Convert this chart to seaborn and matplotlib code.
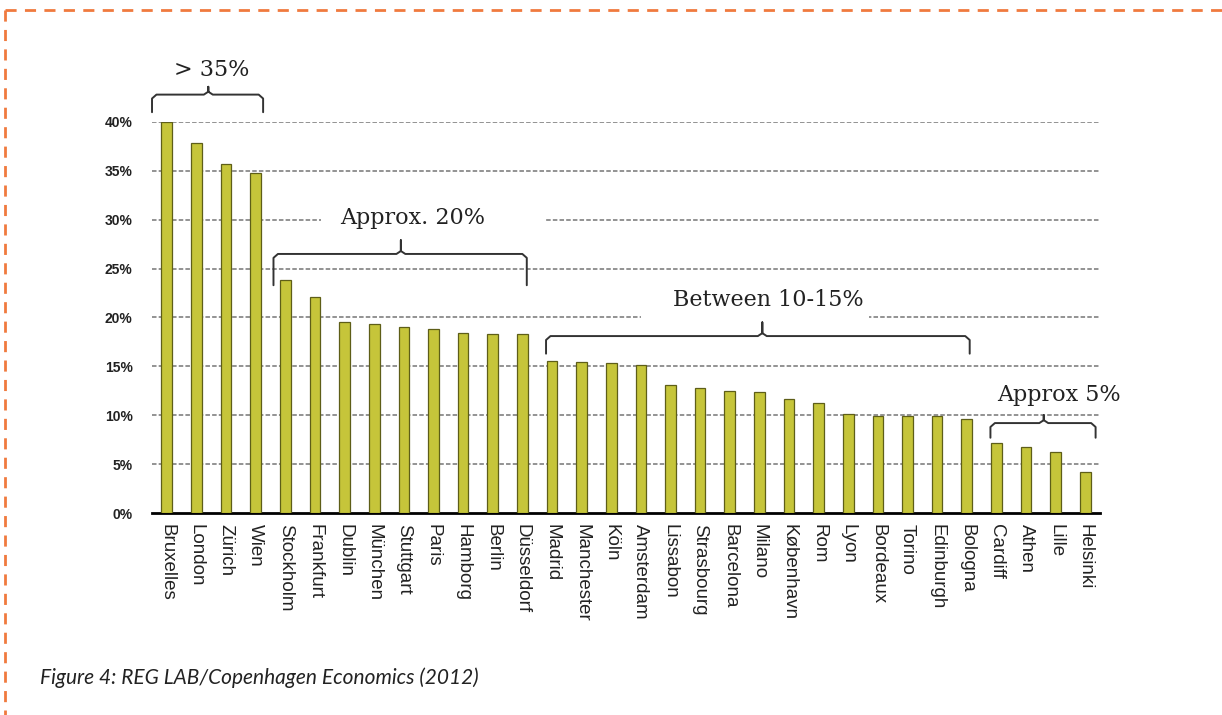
import numpy as np
import pandas as pd
import matplotlib
matplotlib.use("Agg")
import matplotlib.pyplot as plt
from matplotlib.lines import Line2D
from matplotlib.patches import Rectangle
import seaborn as sns

# ─────────────────────────────────────────────
# DATA
# ─────────────────────────────────────────────
cities = ["Bruxelles", "London", "Zürich", "Wien", "Stockholm", "Frankfurt",
          "Dublin", "München", "Stuttgart", "Paris", "Hamborg", "Berlin",
          "Düsseldorf", "Madrid", "Manchester", "Köln", "Amsterdam", "Lissabon",
          "Strasbourg", "Barcelona", "Milano", "København", "Rom", "Lyon",
          "Bordeaux", "Torino", "Edinburgh", "Bologna", "Cardiff", "Athen",
          "Lille", "Helsinki"]
shares = [40.0, 37.9, 35.7, 34.8, 23.8, 22.1, 19.5, 19.3, 19.0, 18.8, 18.4,
          18.3, 18.3, 15.6, 15.4, 15.3, 15.1, 13.1, 12.8, 12.5, 12.4, 11.7,
          11.3, 10.1, 9.9, 9.9, 9.9, 9.6, 7.2, 6.8, 6.2, 4.2]
y_ticks = [0, 5, 10, 15, 20, 25, 30, 35, 40]

group_labels = ["> 35%", "Approx. 20%", "Between 10-15%", "Approx 5%"]

df = pd.DataFrame({"city": cities, "share": shares})

# ─────────────────────────────────────────────
# FIGURE
# ─────────────────────────────────────────────
sns.set_style("white")
plt.rcParams["font.family"] = ["Liberation Sans", "DejaVu Sans"]

fig = plt.figure(figsize=(12.22, 7.15), dpi=100)
ax = fig.add_axes([0.1244, 0.2825, 0.7758, 0.5469])

sns.barplot(data=df, x="city", y="share", color="#c6c53a", saturation=1,
            width=0.36, edgecolor="#5e5e18", linewidth=0.9, ax=ax, zorder=3)

ax.set_xlim(-0.5, len(cities) - 0.5)
ax.set_ylim(0, 40)
ax.set_yticks(y_ticks)
ax.set_yticklabels([f"{t}%" for t in y_ticks], fontsize=10, fontweight="bold",
                   color="#222222")
ax.tick_params(axis="y", length=0, pad=14)

ax.set_xticks(range(len(cities)))
ax.set_xticklabels(cities, rotation=270, fontsize=13.5, color="#222222")
ax.tick_params(axis="x", which="major", length=0, pad=8)
ax.set_xticks(np.arange(-0.5, len(cities)), minor=True)
ax.tick_params(axis="x", which="minor", length=5, width=1.5, color="black",
               direction="out")
ax.set_xlabel("")
ax.set_ylabel("")

for s in ["left", "right", "top"]:
    ax.spines[s].set_visible(False)
ax.spines["bottom"].set_color("black")
ax.spines["bottom"].set_linewidth(2)

for t in y_ticks[1:]:
    ax.axhline(t, color="#8a8a8a", linestyle=(0, (2.5, 1.2)), linewidth=1.3,
               zorder=1)

# white gaps in the grid behind two of the labels
ax.add_patch(Rectangle((5.2, 28.8), 7.6, 2.4, facecolor="white",
                       edgecolor="none", zorder=2))
ax.add_patch(Rectangle((16.0, 18.8), 7.7, 2.4, facecolor="white",
                       edgecolor="none", zorder=2))

# ─────────────────────────────────────────────
# BRACES + LABELS
# ─────────────────────────────────────────────
def brace(x0, x1, xm, y_end, y_bar, y_tip):
    r = 0.15
    xs = [x0, x0, x0 + r, xm - r, xm, xm, xm, xm + r, x1 - r, x1, x1]
    ys = [y_end, y_bar - 0.4, y_bar, y_bar, y_bar + 0.3, y_tip, y_bar + 0.3,
          y_bar, y_bar, y_bar - 0.4, y_end]
    ax.plot(xs, ys, color="#333333", linewidth=1.4, clip_on=False, zorder=6)

serif = ["DejaVu Serif"]
txt = dict(ha="center", va="center", fontsize=16, family=serif,
           color="#222222", clip_on=False, zorder=5)
# > 35%
brace(-0.5, 3.25, 1.4, 41.0, 42.8, 43.6)
ax.text(1.5, 45.3, group_labels[0], **txt)
# Approx. 20%
brace(3.6, 12.15, 7.9, 23.3, 26.5, 27.9)
ax.text(8.3, 30.2, group_labels[1], **txt)
# Between 10-15%
brace(12.8, 27.1, 20.1, 16.3, 18.1, 19.5)
ax.text(20.3, 21.8, group_labels[2], **txt)
# Approx 5%
brace(27.8, 31.35, 29.6, 7.7, 9.2, 10.0)
ax.text(30.1, 12.1, group_labels[3], **txt)

# ─────────────────────────────────────────────
# FRAME + CAPTION
# ─────────────────────────────────────────────
orange = "#f07a3e"
fig.add_artist(Line2D([0.004, 1.0], [0.986, 0.986], transform=fig.transFigure,
                      color=orange, linewidth=2, linestyle=(0, (4, 3))))
fig.add_artist(Line2D([0.004, 0.004], [0.986, 0.0], transform=fig.transFigure,
                      color=orange, linewidth=2, linestyle=(0, (4, 3))))

fig.text(0.033, 0.043, "Figure 4: REG LAB/Copenhagen Economics (2012)",
         fontsize=15, style="italic", family=["Lato", "DejaVu Sans"],
         color="#222222")

fig.savefig("out.png", dpi=100)
